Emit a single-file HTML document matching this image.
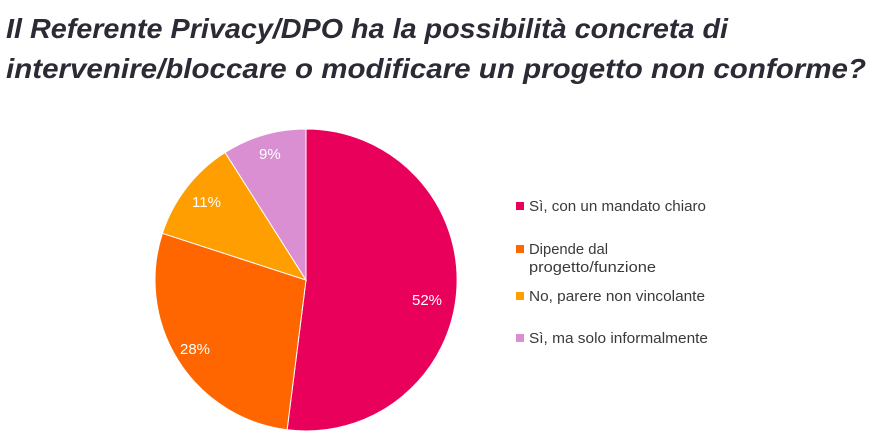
<!DOCTYPE html>
<html><head><meta charset="utf-8"><style>
body{margin:0;background:#fff;width:889px;height:440px;overflow:hidden}
</style></head><body>
<svg width="889" height="440" xmlns="http://www.w3.org/2000/svg" font-family="Liberation Sans, sans-serif">
<text x="6" y="38" font-size="28" font-weight="bold" font-style="italic" fill="#2b2b35" textLength="722" lengthAdjust="spacingAndGlyphs">Il Referente Privacy/DPO ha la possibilità concreta di</text>
<text x="6" y="78" font-size="28" font-weight="bold" font-style="italic" fill="#2b2b35" textLength="860" lengthAdjust="spacingAndGlyphs">intervenire/bloccare o modificare un progetto non conforme?</text>
<g stroke="#fff" stroke-width="1">
<path d="M306,280 L306,129 A151,151 0 1,1 287.1,429.8 Z" fill="#E8005A"/>
<path d="M306,280 L287.1,429.8 A151,151 0 0,1 162.4,233.3 Z" fill="#FF6600"/>
<path d="M306,280 L162.4,233.3 A151,151 0 0,1 225.1,152.5 Z" fill="#FF9E00"/>
<path d="M306,280 L225.1,152.5 A151,151 0 0,1 306,129 Z" fill="#DA8FD3"/>
</g>
<g fill="#fff" font-size="15">
<text x="412" y="305">52%</text>
<text x="180" y="354">28%</text>
<text x="192" y="207">11%</text>
<text x="259" y="159">9%</text>
</g>
<rect x="516" y="202" width="8" height="8" fill="#E8005A"/>
<rect x="516" y="245" width="8" height="8" fill="#FF6600"/>
<rect x="516" y="292" width="8" height="8" fill="#FF9E00"/>
<rect x="516" y="334" width="8" height="8" fill="#DA8FD3"/>
<g fill="#3a3a3a" font-size="14.5">
<text x="529" y="211" textLength="177" lengthAdjust="spacingAndGlyphs">Sì, con un mandato chiaro</text>
<text x="529" y="254" textLength="79" lengthAdjust="spacingAndGlyphs">Dipende dal</text>
<text x="529" y="272" textLength="127" lengthAdjust="spacingAndGlyphs">progetto/funzione</text>
<text x="529" y="301" textLength="176" lengthAdjust="spacingAndGlyphs">No, parere non vincolante</text>
<text x="529" y="343" textLength="179" lengthAdjust="spacingAndGlyphs">Sì, ma solo informalmente</text>
</g>
</svg>
</body></html>
